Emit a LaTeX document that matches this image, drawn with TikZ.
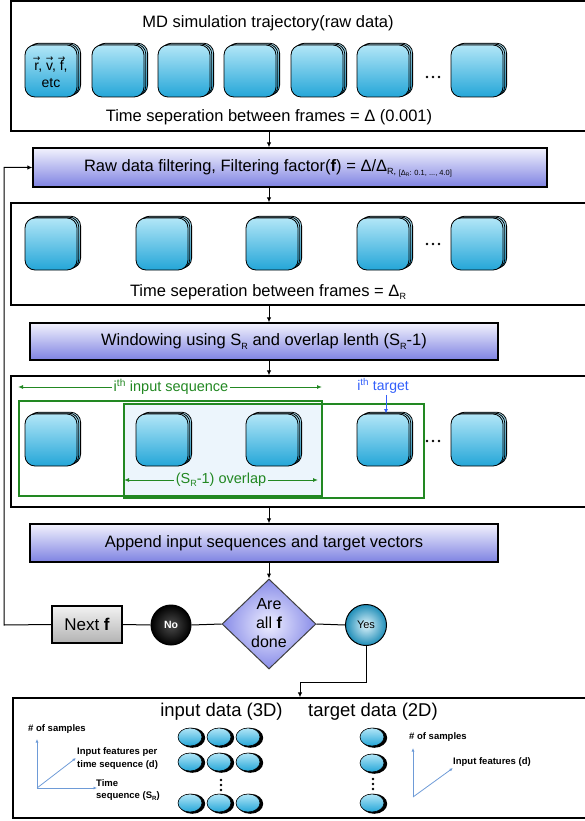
\documentclass[tikz,border=0pt]{standalone}
\usepackage{fontspec}
\setmainfont{Liberation Sans}
\newfontfamily\dejavu{DejaVu Sans}
\usetikzlibrary{arrows.meta,shapes.geometric,calc}

\definecolor{grn}{RGB}{34,136,34}
\definecolor{ltb}{RGB}{236,245,252}
\definecolor{tgtblue}{RGB}{50,95,250}
\definecolor{axc}{RGB}{110,155,215}
\definecolor{cyT}{RGB}{178,230,247}
\definecolor{cyB}{RGB}{36,166,216}
\definecolor{pT}{RGB}{242,242,253}
\definecolor{pB}{RGB}{126,130,226}
\definecolor{dT}{RGB}{238,238,255}
\definecolor{dB}{RGB}{136,140,232}

\newcommand\fsz[1]{\fontsize{#1}{#1}\selectfont}
\newcommand\lowsub[1]{\raisebox{-0.45ex}{\fsz{9}#1}}
\newcommand\varrow[1]{\setbox0\hbox{#1}\rlap{\hbox to \wd0{\hss\raisebox{0.62em}{\dejavu\fsz{9}→}\hss}}#1}

\tikzset{
  bigbox/.style={draw=black, line width=1.3pt, inner sep=0pt},
  procbox/.style={draw=black, line width=1.3pt, top color=pT, bottom color=pB, inner sep=0pt, font=\fsz{16.5}},
  arr/.style={-{Latex[length=5pt,width=4.5pt]}, line width=1pt},
  framefr/.style={draw=black, line width=0.8pt, rounded corners=10pt, top color=cyT, bottom color=cyB, minimum width=52pt, minimum height=52pt, inner sep=0pt},
  framebk/.style={framefr},
  ovnode/.style={ellipse, draw=black, line width=0.6pt, minimum width=24pt, minimum height=18pt, inner sep=0pt, top color=cyT, bottom color=cyB},
  garr/.style={draw=grn, line width=1pt, {Latex[length=5pt,width=4pt]}-{Latex[length=5pt,width=4pt]}},
  axarr/.style={draw=axc, line width=0.8pt, -{Latex[length=3.5pt,width=3pt]}},
  axl/.style={font=\bfseries\fontsize{9.5}{12.5}\selectfont, align=left, inner sep=0pt, anchor=west},
}

\newcommand\frm[3]{%
  \foreach \o in {2,1}{\node[framebk] at ({#2+26+1.8*\o},{#3+26-0.9*\o}) {};}
  \node[framefr] (#1) at ({#2+26},{#3+26}) {};}
\newcommand\ovl[3]{%
  \fill[black] ({#2+2.2},{#3+0.8}) ellipse (13pt and 10pt);
  \node[ovnode] (#1) at (#2,#3) {};}
\newcommand\hdots[2]{\foreach \d in {-6,0,6}{\fill ({#1+\d},#2) circle (1.3pt);}}
\newcommand\vdotz[2]{\foreach \d in {-5,0,5}{\fill (#1,{#2+\d}) circle (1.3pt);}}

\begin{document}
\begin{tikzpicture}[x=1pt,y=-1pt]
\useasboundingbox (0,0) rectangle (584,821);
\coordinate (mx) at (269,0);

% big boxes
\node[bigbox, minimum width=600pt, minimum height=130pt] (b1) at (311,66) {};
\node[bigbox, minimum width=600pt, minimum height=102pt] (b2) at (311,254) {};
\node[bigbox, minimum width=600pt, minimum height=131pt] (b3) at (311,441.5) {};
\node[bigbox, minimum width=600pt, minimum height=120pt] (b4) at (313,758) {};

% process boxes
\node[procbox, minimum width=514pt, minimum height=39pt] (filt) at (290,167.5) {};
\node[font=\fsz{16.5}] (filtxt) at (268,168) {Raw data filtering, Filtering factor(\textbf{f}) = Δ/Δ\lowsub{R,}\,\raisebox{-0.5ex}{\fsz{7.5}[Δ\raisebox{-0.3ex}{\fsz{5}R}: 0.1, ..., 4.0]}};
\node[procbox, minimum width=468pt, minimum height=37pt] (win) at (264,341.5) {Windowing using S\lowsub{R} and overlap lenth (S\lowsub{R}-1)};
\node[procbox, minimum width=468pt, minimum height=38pt] (app) at (264,543) {Append input sequences and target vectors};

% row 1
\node[font=\fsz{16.5}] (t1) at (268,23) {MD simulation trajectory(raw data)};
\frm{fa1}{25}{45}\frm{fa2}{92}{45}\frm{fa3}{158}{45}\frm{fa4}{224}{45}
\frm{fa5}{291}{45}\frm{fa6}{357}{45}\frm{fa7}{451}{45}
\node[font=\fontsize{14}{17}\selectfont, align=center, inner sep=0pt] (lbl) at ([yshift=-1pt]fa1) {\varrow{r}, \varrow{v}, \varrow{f},\\ etc};
\hdots{433}{77}
\node[font=\fsz{16.5}] (t2) at (269,117) {Time seperation between frames = Δ (0.001)};

% row 2
\frm{fb1}{25}{218}\frm{fb2}{136}{218}\frm{fb3}{246}{218}\frm{fb4}{357}{218}\frm{fb5}{451}{218}
\hdots{433}{244}
\node[font=\fsz{16.5}] (t3) at (268,292) {Time seperation between frames = Δ\lowsub{R}};

% row 3
\fill[ltb] (124,404) rectangle (322,496);
\frm{fc1}{25}{414}\frm{fc2}{136}{414}\frm{fc3}{246}{414}\frm{fc4}{357}{414}\frm{fc5}{451}{414}
\hdots{433}{441}
\draw[grn, line width=1.3pt] (19,401) rectangle (322,496);
\draw[grn, line width=1.3pt] (124,404) rectangle (424,498);
\coordinate (sqa) at (18,387); \coordinate (sqb) at (322,387);
\draw[garr] (sqa) -- (sqb);
\node[fill=white, text=grn, font=\fsz{14.5}, inner sep=2pt] (sq) at (171,387) {i\textsuperscript{th} input sequence};
\coordinate (ova) at (124,480); \coordinate (ovb) at (318,480);
\draw[garr] (ova) -- (ovb);
\node[fill=ltb, text=grn, font=\fsz{14.5}, inner sep=2pt] (ov) at (221,480) {(S\lowsub{R}-1) overlap};
\node[text=tgtblue, font=\fsz{14}, inner sep=1pt] (tg) at (383,386) {i\textsuperscript{th} target};
\draw[tgtblue, line width=0.9pt, -{Latex[length=4.5pt,width=4pt]}] (tg.south -| 386,0) -- (fc4.north -| 386,0);

% decision part
\node[diamond, draw=black!75, line width=1pt, inner color=dT, outer color=dB, minimum width=94pt, minimum height=90pt, inner sep=0pt] (dm) at (269,624) {};
\node[font=\fontsize{16}{19}\selectfont, align=center, inner sep=0pt] (dmt) at (269,623) {Are\\all \textbf{f}\\done};
\node[circle, draw=black, line width=1pt, inner color=cyT!40!white, outer color=cyB!85!black, minimum size=41pt, inner sep=0pt, font=\fsz{11}] (yes) at (366,625) {Yes};
\node[circle, draw=black, line width=1pt, inner color=black!70, outer color=black, minimum size=40pt, inner sep=0pt, font=\bfseries\fsz{10.5}, text=white] (no) at (171,625) {No};
\node[draw=black, line width=1.3pt, top color=black!5, bottom color=black!30, minimum width=70pt, minimum height=37pt, inner sep=0pt, font=\fsz{17}] (nxt) at (87,624.5) {Next \textbf{f}};

\draw[arr] (b1.south -| mx) -- (filt.north -| mx);
\draw[arr] (filt.south -| mx) -- (b2.north -| mx);
\draw[arr] (b2.south -| mx) -- (win.north -| mx);
\draw[arr] (win.south -| mx) -- (b3.north -| mx);
\draw[arr] (b3.south -| mx) -- (app.north -| mx);
\draw[arr] (app.south -| mx) -- (dm.north);
\draw[line width=1pt] (dm.west) -- (no.east);
\draw[line width=1pt] (no.west) -- (nxt.east);
\draw[line width=1pt] (dm.east) -- (yes.west);
\coordinate (fb) at (4,625);
\draw[arr] (nxt.west) -- (fb) |- (filt.west);
\coordinate (yk) at (300,682);
\draw[arr] (yes.south) |- (yk) -- (yk |- b4.north);

% box 4
\node[font=\fsz{18.5}] (in3) at (221.5,712) {input data (3D)};
\node[font=\fsz{18.5}] (tg2) at (373,712) {target data (2D)};
\ovl{i11}{190}{737}\ovl{i12}{219}{737}\ovl{i13}{248}{737}
\ovl{i21}{190}{762}\ovl{i22}{219}{762}\ovl{i23}{248}{762}
\ovl{i31}{190}{803}\ovl{i32}{219}{803}\ovl{i33}{248}{803}
\vdotz{221}{785}
\ovl{o1}{372}{737}\ovl{o2}{372}{763}\ovl{o3}{372}{803}
\vdotz{373}{784}

% axes left
\coordinate (ao) at (37,788);
\coordinate (ay) at (37,739);
\coordinate (ad) at (76,758);
\coordinate (ax) at (97,788);
\draw[axarr] (ao) -- (ay);
\draw[axarr] (ao) -- (ad);
\draw[axarr] (ao) -- (ax);
\node[axl] (l1) at (28,729) {\# of samples};
\node[axl] (l2) at (77,758.5) {Input features per\\time sequence (d)};
\node[axl] (l3) at (96,790) {Time\\sequence (S\raisebox{-0.4ex}{\fsz{6}R})};
% axes right
\coordinate (bo) at (413,797);
\coordinate (by) at (413,748);
\coordinate (bd) at (453,768);
\draw[axarr] (bo) -- (by);
\draw[axarr] (bo) -- (bd);
\node[axl] (r1) at (409,737) {\# of samples};
\node[axl] (r2) at (453,762) {Input features (d)};
\end{tikzpicture}
\end{document}
